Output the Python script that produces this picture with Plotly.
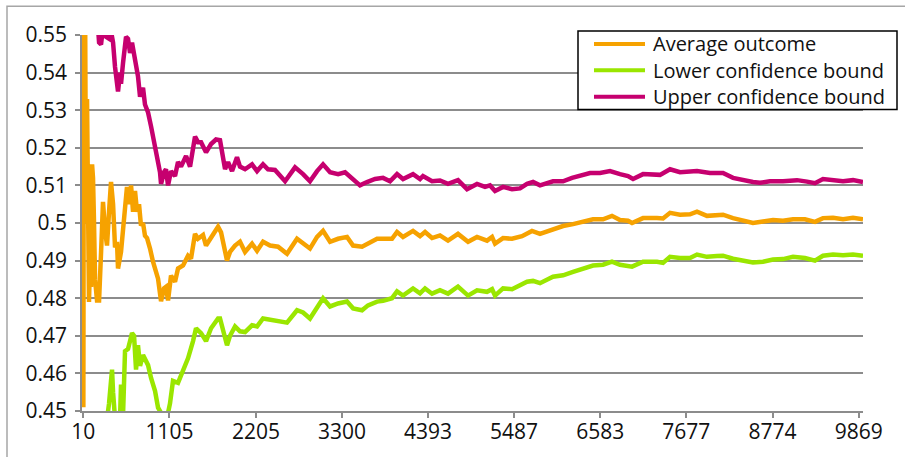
import plotly.graph_objects as go

# Running average of outcomes with its confidence bounds, by number of trials
trial_avg = [10, 19, 32, 44, 57, 70, 82, 95, 108, 121, 133, 146, 159, 184, 210, 235, 260, 286, 311, 337,
             362, 388, 413, 438, 451, 489, 515, 540, 565, 591, 617, 642, 667, 693, 718, 743, 769, 794, 820, 858,
             896, 960, 998, 1036, 1061, 1087, 1125, 1176, 1214, 1278, 1341, 1379, 1430, 1468, 1532, 1570, 1634, 1723, 1761, 1799,
             1837, 1875, 1939, 2002, 2066, 2155, 2219, 2295, 2384, 2486, 2600, 2727, 2804, 2892, 2982, 3058, 3147, 3249, 3363, 3440,
             3554, 3630, 3745, 3821, 3935, 3999, 4075, 4202, 4291, 4355, 4444, 4545, 4647, 4774, 4902, 5016, 5143, 5207, 5245, 5347,
             5461, 5588, 5715, 5817, 5982, 6110, 6237, 6364, 6491, 6618, 6732, 6834, 6936, 6987, 7127, 7305, 7381, 7470, 7597, 7724,
             7813, 7940, 8068, 8144, 8271, 8398, 8525, 8652, 8780, 8907, 9034, 9186, 9313, 9415, 9543, 9670, 9797, 9924]
avg = [0.451, 0.58, 0.56, 0.50, 0.533, 0.50, 0.479, 0.49, 0.483, 0.5156, 0.512, 0.50, 0.485, 0.4794, 0.4794, 0.492, 0.5056, 0.498, 0.494, 0.503,
       0.5109, 0.505, 0.4935, 0.495, 0.4879, 0.4923, 0.498, 0.504, 0.5096, 0.505, 0.510, 0.503, 0.5085, 0.503, 0.505, 0.4993, 0.500, 0.4966, 0.496, 0.4932,
       0.4897, 0.4852, 0.4792, 0.4826, 0.483, 0.4794, 0.486, 0.4844, 0.4879, 0.4887, 0.4913, 0.4905, 0.4971, 0.4958, 0.4968, 0.494, 0.4963, 0.499, 0.4975, 0.494,
       0.490, 0.4923, 0.494, 0.495, 0.4923, 0.4945, 0.4926, 0.495, 0.494, 0.4937, 0.4918, 0.4958, 0.4945, 0.4932, 0.4963, 0.4979, 0.495, 0.4958, 0.4963, 0.494,
       0.4937, 0.4945, 0.4958, 0.4958, 0.4958, 0.4976, 0.4963, 0.4979, 0.4965, 0.4976, 0.496, 0.4967, 0.4953, 0.4971, 0.495, 0.4963, 0.4953, 0.4963, 0.4945, 0.496,
       0.4958, 0.4965, 0.4979, 0.4971, 0.4984, 0.4992, 0.4997, 0.5005, 0.501, 0.501, 0.5019, 0.5008, 0.5006, 0.500, 0.5013, 0.5013, 0.5012, 0.5027, 0.5022, 0.5023,
       0.503, 0.5019, 0.5021, 0.5022, 0.5013, 0.5008, 0.500, 0.5004, 0.5008, 0.5006, 0.501, 0.501, 0.5003, 0.5013, 0.5014, 0.501, 0.5014, 0.501]

trial_lo = [10, 100, 200, 300, 324, 337, 362, 375, 388, 413, 451, 477, 489, 515, 540, 578, 604, 629, 655, 680,
            705, 731, 769, 833, 871, 922, 960, 998, 1061, 1087, 1112, 1150, 1214, 1278, 1341, 1405, 1443, 1507, 1570, 1634,
            1723, 1748, 1799, 1837, 1875, 1939, 2002, 2066, 2155, 2219, 2295, 2409, 2511, 2600, 2727, 2804, 2892, 2982, 3058, 3147,
            3249, 3363, 3440, 3554, 3630, 3745, 3821, 3935, 3999, 4075, 4202, 4291, 4355, 4444, 4545, 4647, 4774, 4902, 5016, 5143,
            5207, 5245, 5347, 5461, 5537, 5652, 5728, 5817, 5982, 6110, 6237, 6364, 6491, 6618, 6732, 6834, 6936, 6987, 7127, 7305,
            7381, 7470, 7597, 7724, 7813, 7940, 8068, 8144, 8271, 8398, 8525, 8652, 8780, 8907, 9034, 9186, 9313, 9415, 9543, 9670,
            9797, 9924]
lower = [0.30, 0.40, 0.43, 0.445, 0.449, 0.452, 0.458, 0.461, 0.455, 0.448, 0.446, 0.448, 0.457, 0.449, 0.4659, 0.4665, 0.4686, 0.4707, 0.470, 0.461,
         0.4675, 0.462, 0.4649, 0.4622, 0.4588, 0.4553, 0.4509, 0.4495, 0.449, 0.4495, 0.452, 0.458, 0.4575, 0.4606, 0.464, 0.4686, 0.472, 0.4707, 0.4686, 0.472,
         0.4746, 0.4746, 0.4702, 0.4675, 0.470, 0.4725, 0.4712, 0.471, 0.4728, 0.4725, 0.4746, 0.4743, 0.4738, 0.4735, 0.4768, 0.4762, 0.4746, 0.4778, 0.480, 0.4778,
         0.4786, 0.4791, 0.4773, 0.4768, 0.4781, 0.4791, 0.4793, 0.480, 0.4818, 0.4807, 0.4826, 0.4813, 0.4826, 0.4812, 0.4821, 0.4812, 0.4831, 0.4807, 0.4821, 0.4817,
         0.4824, 0.4807, 0.4826, 0.4824, 0.4831, 0.4844, 0.4846, 0.484, 0.4857, 0.4861, 0.487, 0.4879, 0.4887, 0.4889, 0.4897, 0.4889, 0.4887, 0.4884, 0.4897, 0.4897,
         0.4894, 0.491, 0.4907, 0.4907, 0.4916, 0.491, 0.4912, 0.4913, 0.4905, 0.490, 0.4895, 0.4897, 0.4903, 0.4904, 0.491, 0.4907, 0.490, 0.4913, 0.4916, 0.4914,
         0.4916, 0.4913]

trial_hi = [10, 100, 184, 210, 235, 260, 299, 337, 362, 388, 413, 438, 451, 477, 489, 515, 540, 553, 578, 604,
            629, 667, 693, 705, 731, 769, 794, 833, 871, 909, 934, 985, 998, 1036, 1061, 1087, 1125, 1176, 1214, 1252,
            1316, 1367, 1430, 1468, 1507, 1570, 1634, 1697, 1748, 1774, 1812, 1850, 1901, 1964, 2002, 2066, 2155, 2219, 2295, 2358,
            2447, 2575, 2702, 2804, 2892, 2982, 3058, 3147, 3249, 3338, 3427, 3528, 3617, 3719, 3821, 3910, 3999, 4075, 4202, 4291,
            4329, 4444, 4545, 4647, 4774, 4889, 5016, 5118, 5181, 5245, 5347, 5461, 5563, 5652, 5728, 5817, 5982, 6110, 6224, 6326,
            6453, 6580, 6707, 6834, 6936, 7000, 7127, 7343, 7470, 7597, 7813, 7978, 8144, 8271, 8398, 8525, 8614, 8741, 8907, 9085,
            9212, 9313, 9415, 9543, 9670, 9797, 9924]
upper = [0.62, 0.57, 0.556, 0.548, 0.5475, 0.552, 0.5495, 0.549, 0.551, 0.548, 0.5415, 0.536, 0.535, 0.540, 0.537, 0.5426, 0.546, 0.5495, 0.549, 0.5452,
         0.548, 0.544, 0.5407, 0.539, 0.5336, 0.536, 0.5315, 0.5294, 0.5257, 0.5215, 0.5178, 0.5135, 0.5104, 0.5135, 0.5143, 0.510, 0.5138, 0.5125, 0.5162, 0.515,
         0.5178, 0.515, 0.523, 0.5215, 0.5215, 0.5188, 0.521, 0.5222, 0.522, 0.519, 0.5143, 0.5162, 0.5138, 0.5175, 0.515, 0.5143, 0.5156, 0.5138, 0.5156, 0.5143,
         0.5141, 0.5111, 0.5148, 0.513, 0.5111, 0.5138, 0.5156, 0.5135, 0.513, 0.5135, 0.5117, 0.510, 0.5109, 0.5117, 0.512, 0.5111, 0.513, 0.5117, 0.513, 0.5117,
         0.5125, 0.5111, 0.5113, 0.5104, 0.5114, 0.509, 0.5104, 0.5096, 0.510, 0.5085, 0.5096, 0.509, 0.5092, 0.5104, 0.5109, 0.510, 0.5111, 0.5111, 0.512, 0.5125,
         0.5133, 0.5133, 0.5138, 0.513, 0.5125, 0.5117, 0.513, 0.5128, 0.5143, 0.5135, 0.5138, 0.5133, 0.5133, 0.512, 0.5114, 0.5109, 0.5107, 0.5111, 0.5111, 0.5114,
         0.511, 0.5106, 0.5117, 0.5114, 0.5111, 0.5114, 0.5109]

series_names = ["Average outcome", "Lower confidence bound", "Upper confidence bound"]
series_colors = ["#F6A200", "#9AE600", "#C6006F"]

x_tick_vals = [10, 1105, 2205, 3300, 4393, 5487, 6583, 7677, 8774, 9869]
x_tick_text = ["10", "1105", "2205", "3300", "4393", "5487", "6583", "7677", "8774", "9869"]
y_tick_vals = [0.55, 0.54, 0.53, 0.52, 0.51, 0.50, 0.49, 0.48, 0.47, 0.46, 0.45]
y_tick_text = ["0.55", "0.54", "0.53", "0.52", "0.51", "0.5", "0.49", "0.48", "0.47", "0.46", "0.45"]

FONT = "Open Sans"
GRID = "#8c8c8c"
W, H = 905, 457
ML, MR, MT, MB = 82, 42, 35, 44
PW, PH = W - ML - MR, H - MT - MB


def px_x(px):
    """Horizontal pixel position -> paper coordinate."""
    return (px - ML) / PW


def px_y(py):
    """Vertical pixel position (from top) -> paper coordinate."""
    return (H - MB - py) / PH


fig = go.Figure()
for xs, ys, name, color in zip([trial_avg, trial_lo, trial_hi], [avg, lower, upper],
                               series_names, series_colors):
    fig.add_trace(go.Scatter(x=xs, y=ys, mode="lines", name=name,
                             line=dict(color=color, width=4.5)))

# light frame around the whole chart area
fig.add_shape(type="rect", xref="paper", yref="paper",
              x0=px_x(7), x1=px_x(920), y0=px_y(470), y1=px_y(6),
              line=dict(color="#a6a6a6", width=1.5), fillcolor="rgba(0,0,0,0)", layer="below")

# legend box: outline, line samples and labels
fig.add_shape(type="rect", xref="paper", yref="paper",
              x0=px_x(578), x1=px_x(897), y0=px_y(110), y1=px_y(31),
              line=dict(color="#000000", width=1.5), fillcolor="white", layer="above")
for i, (name, color) in enumerate(zip(series_names, series_colors)):
    row_y = px_y(44 + 26.5 * i)
    fig.add_shape(type="line", xref="paper", yref="paper",
                  x0=px_x(594), x1=px_x(645), y0=row_y, y1=row_y,
                  line=dict(color=color, width=4), layer="above")
    fig.add_annotation(xref="paper", yref="paper", x=px_x(651), y=row_y,
                       xanchor="left", yanchor="middle", text=name, showarrow=False,
                       font=dict(family=FONT, size=20, color="#111111"))

fig.update_layout(
    width=W, height=H,
    margin=dict(l=ML, r=MR, t=MT, b=MB),
    paper_bgcolor="white", plot_bgcolor="white",
    font=dict(family=FONT, size=21, color="#111111"),
    showlegend=False,
    # tick marks are drawn as minor ticks so the labels sit right under the axis
    xaxis=dict(range=[-7, 9924], tickmode="array", tickvals=x_tick_vals, ticktext=x_tick_text,
               showgrid=False, zeroline=False, showline=True, linecolor=GRID, linewidth=1.5,
               ticks="", ticklabelstandoff=1,
               minor=dict(tickmode="array", tickvals=x_tick_vals, ticks="outside", ticklen=5,
                          tickcolor=GRID, tickwidth=1.5, showgrid=False)),
    yaxis=dict(range=[0.45, 0.55], tickmode="array", tickvals=y_tick_vals, ticktext=y_tick_text,
               showgrid=True, gridcolor=GRID, gridwidth=1.5, zeroline=False,
               showline=True, linecolor=GRID, linewidth=1.5,
               ticks="outside", ticklen=5, tickcolor=GRID, tickwidth=1.5, ticklabelstandoff=4),
)

fig.write_html("out.html")
